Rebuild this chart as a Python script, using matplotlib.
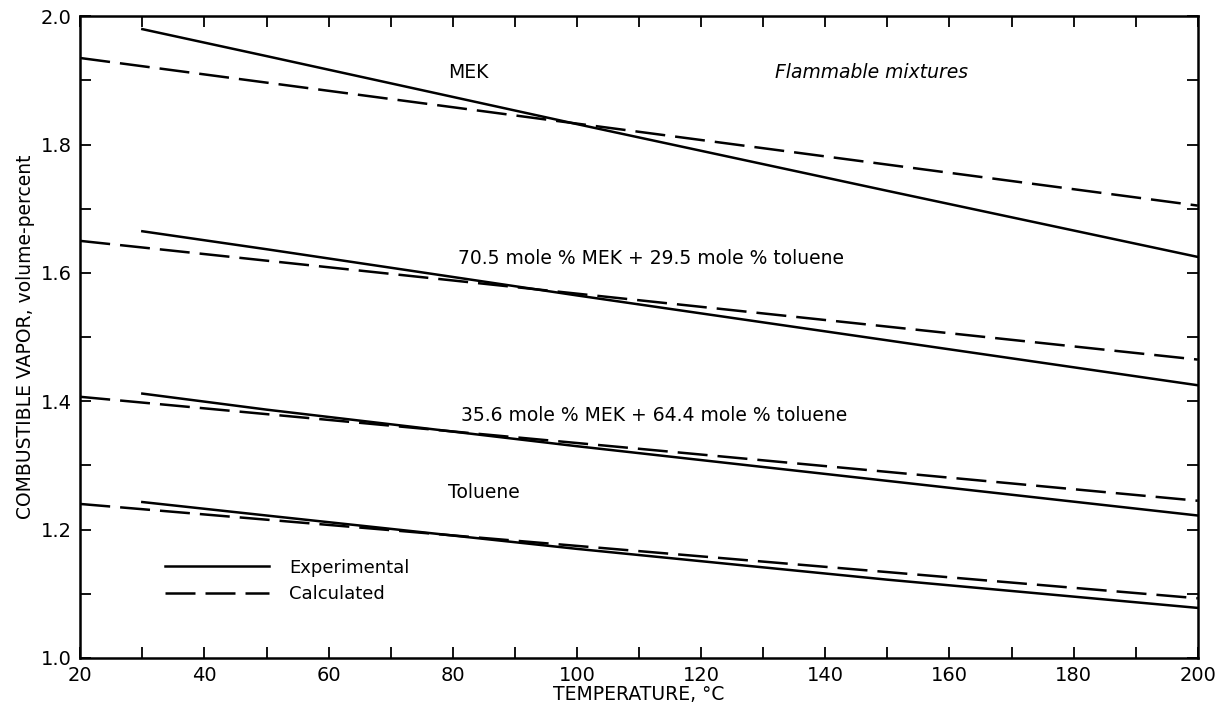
import matplotlib.pyplot as plt
from matplotlib.ticker import MultipleLocator

plt.rcParams['font.family'] = ['DejaVu Sans']

# experimental curves start at 30 C, calculated ones at 20 C
exp_x = [30, 50, 100, 150, 200]
calc_x = [20, 200]

mek_exp = [1.980, 1.938, 1.832, 1.728, 1.625]
mek_calc = [1.935, 1.705]
mix70_exp = [1.665, 1.637, 1.565, 1.495, 1.425]
mix70_calc = [1.650, 1.465]
mix35_exp = [1.412, 1.387, 1.330, 1.276, 1.222]
mix35_calc = [1.407, 1.245]
tol_exp = [1.243, 1.222, 1.170, 1.122, 1.078]
tol_calc = [1.240, 1.093]

labels = ["MEK", "70.5 mole % MEK + 29.5 mole % toluene",
          "35.6 mole % MEK + 64.4 mole % toluene", "Toluene"]
label_x = [82.5, 112, 112.5, 85]
label_y = [1.913, 1.622, 1.378, 1.258]

fig = plt.figure(figsize=(12.16, 7.09), dpi=100)
ax = fig.add_axes([0.066, 0.072, 0.919, 0.905])

lw = 1.8
dash = (12, 4)
for i, (e, c) in enumerate([(mek_exp, mek_calc), (mix70_exp, mix70_calc),
                            (mix35_exp, mix35_calc), (tol_exp, tol_calc)]):
    ax.plot(exp_x, e, color='black', lw=lw,
            label='Experimental' if i == 0 else None)
    ax.plot(calc_x, c, color='black', lw=lw, dashes=dash,
            label='Calculated' if i == 0 else None)

for t, x, y in zip(labels, label_x, label_y):
    ax.text(x, y, t, ha='center', va='center', fontsize=13.5)
ax.text(147.5, 1.913, "Flammable mixtures", ha='center', va='center',
        fontsize=13.5, style='italic')

ax.set_xlim(20, 200)
ax.set_ylim(1.0, 2.0)
ax.xaxis.set_major_locator(MultipleLocator(20))
ax.xaxis.set_minor_locator(MultipleLocator(10))
ax.yaxis.set_major_locator(MultipleLocator(0.2))
ax.yaxis.set_minor_locator(MultipleLocator(0.1))
ax.yaxis.set_major_formatter(plt.FormatStrFormatter('%.1f'))
ax.tick_params(which='both', direction='in', length=8, width=1.3,
               top=True, right=True, labelsize=14, pad=6)
for s in ax.spines.values():
    s.set_linewidth(1.8)

ax.set_xlabel("TEMPERATURE, °C", fontsize=13.5, labelpad=0)
ax.set_ylabel("COMBUSTIBLE VAPOR, volume-percent", fontsize=13.5, labelpad=4)

ax.legend(loc='upper left', bbox_to_anchor=(0.061, 0.18), frameon=False,
          fontsize=13, handlelength=5.8, handletextpad=1.1, labelspacing=0.45)

fig.savefig("out.png", dpi=100)
